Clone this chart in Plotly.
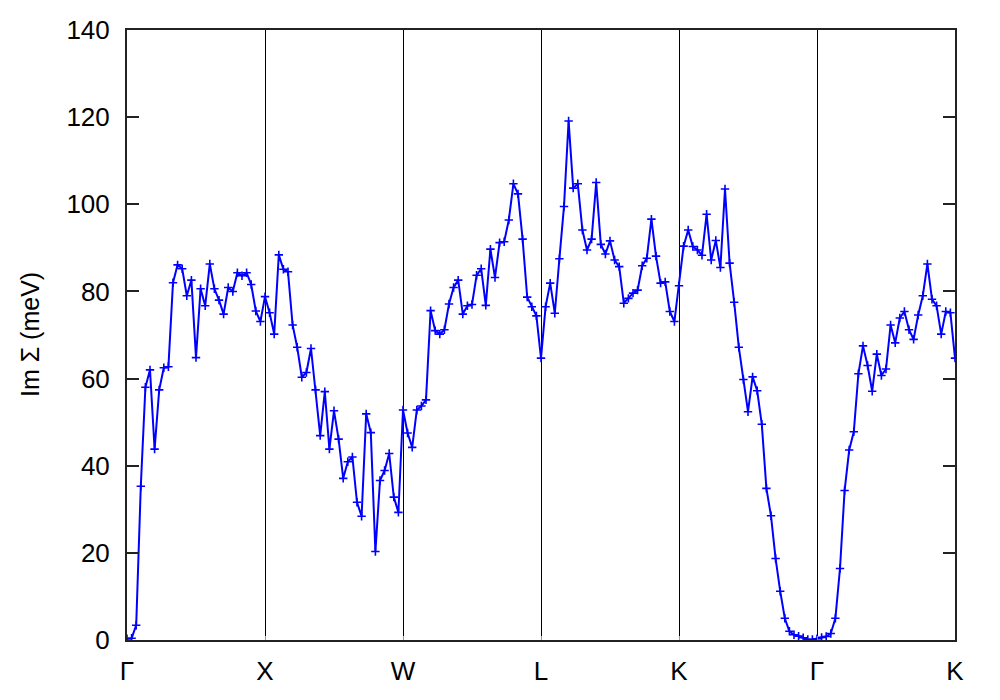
import plotly.graph_objects as go

# High-symmetry path labels and their positions (point index along the path)
tick_labels = ["Γ", "X", "W", "L", "K", "Γ", "K"]
tick_index = [0, 30, 60, 90, 120, 150, 180]

# Im Σ (meV) along the path, one list per segment (endpoint shared with next segment)
seg_G_X = [0.3, 0.4, 3.4, 35.3, 58.0, 62.0, 43.8, 57.4, 62.5, 62.7,
           82.0, 86.1, 85.2, 79.0, 82.6, 64.8, 80.6, 76.7, 86.3, 80.6,
           78.0, 74.8, 80.9, 80.0, 84.3, 83.6, 84.3, 81.6, 75.5, 73.1]
seg_X_W = [78.8, 75.1, 70.2, 88.4, 85.1, 84.5, 72.3, 67.2, 60.3, 61.4,
           66.9, 57.4, 46.9, 57.0, 43.8, 52.6, 46.1, 37.1, 40.9, 42.0,
           31.6, 28.4, 51.9, 47.6, 20.3, 36.6, 38.9, 42.8, 32.8, 29.3]
seg_W_L = [52.8, 47.5, 44.2, 52.8, 53.7, 55.1, 75.6, 71.0, 70.2, 71.2,
           77.1, 80.9, 82.6, 74.8, 76.7, 77.0, 83.7, 85.2, 76.8, 89.7,
           83.2, 91.2, 91.4, 96.4, 104.7, 102.4, 92.0, 78.7, 76.5, 74.4]
seg_L_K = [64.7, 76.5, 81.9, 75.0, 87.5, 99.5, 119.1, 103.7, 104.7, 94.1,
           89.5, 92.0, 105.0, 90.8, 88.6, 91.6, 87.2, 85.7, 77.3, 78.4,
           79.6, 80.3, 85.9, 87.6, 96.6, 88.1, 81.9, 82.2, 75.4, 73.1]
seg_K_G = [81.3, 90.4, 94.1, 90.3, 89.5, 88.3, 97.7, 87.2, 91.7, 85.5,
           103.5, 86.5, 77.5, 67.2, 59.8, 52.4, 60.4, 57.2, 49.5, 34.8,
           28.5, 18.7, 11.2, 5.0, 2.0, 1.2, 0.9, 0.5, 0.1, 0.1]
seg_G_K = [0.3, 0.6, 0.8, 1.5, 5.0, 16.4, 34.3, 43.6, 47.8, 61.1,
           67.5, 63.0, 57.1, 65.6, 60.7, 62.2, 72.3, 68.2, 73.9, 75.4,
           71.2, 69.0, 74.6, 79.0, 86.3, 78.2, 76.7, 70.2, 75.4, 75.1,
           64.7]

im_sigma = seg_G_X + seg_X_W + seg_W_L + seg_L_K + seg_K_G + seg_G_K
path_index = list(range(len(im_sigma)))

fig = go.Figure()
fig.add_trace(go.Scatter(
    x=path_index, y=im_sigma, mode="lines+markers",
    line=dict(color="#0000ff", width=2),
    marker=dict(symbol="cross-thin", size=6, line=dict(color="#0000ff", width=1.6)),
    showlegend=False,
))

font = dict(family="Liberation Sans, Arial, sans-serif", size=26, color="black")

fig.update_layout(
    width=1000, height=700,
    margin=dict(l=119, r=53, t=22, b=68),
    paper_bgcolor="white", plot_bgcolor="white",
    font=font,
    xaxis=dict(
        range=[0, 180], tickvals=tick_index, ticktext=tick_labels,
        showgrid=True, gridcolor="black", gridwidth=1,
        zeroline=False, showline=True, linecolor="#222", linewidth=2,
        mirror=True, ticks="inside", ticklen=4, tickcolor="#999",
        ticklabelstandoff=7, tickfont=font, automargin=False,
    ),
    yaxis=dict(
        range=[0, 140], dtick=20, showgrid=False, zeroline=False,
        showline=True, linecolor="#222", linewidth=2, mirror="ticks",
        ticks="inside", ticklen=12, tickcolor="#222", tickwidth=1.5,
        ticklabelstandoff=10, tickfont=font, automargin=False,
    ),
    annotations=[dict(
        text="Im Σ (meV)", xref="paper", yref="paper",
        x=-0.1171, y=0.5, xanchor="center", yanchor="middle",
        textangle=-90, showarrow=False,
        font=dict(family=font["family"], size=25, color="black"),
    )],
)

fig.write_html("out.html")
